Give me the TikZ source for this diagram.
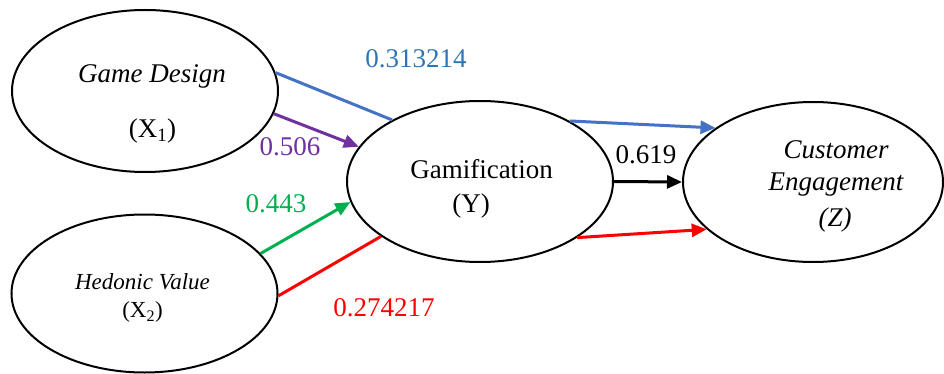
\documentclass[tikz,border=0pt]{standalone}
\usepackage{fontspec}
\setmainfont{Liberation Serif}
\usetikzlibrary{shapes.geometric,arrows.meta}

\definecolor{pathblue}{HTML}{4472C4}
\definecolor{labelblue}{HTML}{2E75B6}
\definecolor{pathpurple}{HTML}{7030A0}
\definecolor{pathgreen}{HTML}{00B050}
\definecolor{pathred}{HTML}{FF0000}

\tikzset{
  construct/.style={ellipse, draw=black, line width=2pt, inner sep=0pt},
  bigtext/.style={inner sep=0pt, font=\fontsize{27}{32}\selectfont},
  smalltext/.style={inner sep=0pt, font=\fontsize{23}{28}\selectfont},
  link/.style={line width=3pt},
  arrowlink/.style={link, -{Triangle[length=15pt,width=13pt]}},
  coef/.style={bigtext}
}

\begin{document}
\begin{tikzpicture}[x=1pt,y=-1pt]
  \useasboundingbox (0,0) rectangle (944,374);

  % latent constructs
  \node[construct, minimum width=266pt, minimum height=162pt] (gd) at (145,91) {};
  \node[construct, minimum width=266pt, minimum height=158pt] (hv) at (144.5,293.5) {};
  \node[construct, minimum width=266pt, minimum height=161pt] (gm) at (480,181.5) {};
  \node[construct, minimum width=260pt, minimum height=160pt] (ce) at (813,182) {};

  % construct names
  \node[bigtext] (gdname) at (152,76) {\itshape Game Design};
  \node[bigtext] (gdsym) at (152.5,131) {(X\textsubscript{1})};
  \node[smalltext] (hvname) at (142.5,282) {\itshape Hedonic Value};
  \node[smalltext] (hvsym) at (142.5,312) {(X\textsubscript{2})};
  \node[bigtext] (gmname) at (481.5,169) {Gamification};
  \node[bigtext] (gmsym) at (471,206) {(Y)};
  \node[bigtext] (cename1) at (836,150) {\itshape Customer};
  \node[bigtext] (cename2) at (836,185) {\itshape Engagement};
  \node[bigtext] (cesym) at (835,220) {\itshape (Z)};

  % direct paths
  \draw[arrowlink, pathpurple] (gd.-10.6) -- (gm.164.8);
  \draw[arrowlink, pathgreen] (hv.19.6) -- (gm.189.8);
  \draw[arrowlink, black] (gm.east) -- (ce.west);

  % paths through gamification
  \draw[link, pathblue] (gd.8.7) -- (gm.145.2);
  \draw[arrowlink, pathblue] (gm.34.6) -- (ce.151.1);
  \draw[link, pathred] (hv.-1) -- (gm.209.8);
  \draw[arrowlink, pathred] (gm.-30.5) -- (ce.204.5);

  % path coefficients
  \node[coef, text=labelblue] (cblue) at (416,58.5) {0.313214};
  \node[coef, text=pathpurple] (cpurple) at (290,147) {0.506};
  \node[coef, text=pathgreen] (cgreen) at (276,204) {0.443};
  \node[coef, text=pathred] (cred) at (384,307.5) {0.274217};
  \node[coef, text=black] (cblack) at (646,155) {0.619};
\end{tikzpicture}
\end{document}
